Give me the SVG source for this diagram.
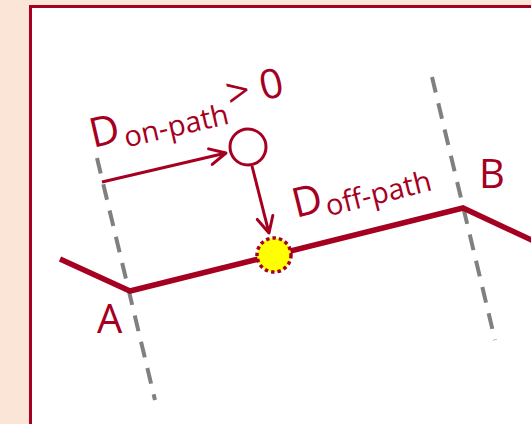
<svg xmlns="http://www.w3.org/2000/svg" width="531" height="424" viewBox="0 0 531 424">
<defs>
<style>
.lbl{font-family:"Open Sans","Noto Sans",sans-serif;fill:#A50021}
.dash{stroke:#808080;stroke-width:4;stroke-dasharray:16 11;fill:none}
.red{stroke:#A50021;fill:none}
</style>
<marker id="arr" viewBox="0 0 20 20" refX="18" refY="10" markerWidth="20" markerHeight="20" markerUnits="userSpaceOnUse" orient="auto">
<path d="M2,2 L18,10 L2,18" fill="none" stroke="#A50021" stroke-width="3" stroke-linecap="round" stroke-linejoin="round"/>
</marker>
</defs>
<rect x="0" y="0" width="531" height="424" fill="#FBE5D6"/>
<rect x="30.5" y="6.5" width="520" height="430" fill="#FFFFFF" stroke="#A50021" stroke-width="3"/>
<g id="guides">
<line class="dash" x1="97" y1="158" x2="155" y2="400"/>
<line class="dash" x1="432" y1="77" x2="495" y2="340"/>
</g>
<g id="path">
<polyline class="red" stroke-width="5.5" points="60,259 130,291 463,208 540,244"/>
</g>
<g id="connectors">
<line class="red" stroke-width="3" x1="102" y1="182" x2="226" y2="153" marker-end="url(#arr)"/>
<line class="red" stroke-width="3" x1="252" y1="166" x2="269" y2="233" marker-end="url(#arr)"/>
</g>
<g id="point-off">
<circle cx="248" cy="147" r="18" fill="#FFFFFF" stroke="#A50021" stroke-width="3"/>
</g>
<g id="point-on">
<circle cx="274" cy="255" r="17" fill="#FFFF00" stroke="#A50021" stroke-width="3.5" stroke-dasharray="3.5 3"/>
</g>
<g id="labels">
<text class="lbl" transform="translate(93,148) rotate(-13)"><tspan font-size="41">D</tspan><tspan font-size="29" dx="3" dy="7">on-path</tspan><tspan font-size="41" dx="3" dy="-15">&gt; 0</tspan></text>
<text class="lbl" transform="translate(296,218) rotate(-14)"><tspan font-size="41">D</tspan><tspan font-size="29" dx="2" dy="6">off-path</tspan></text>
<text class="lbl" font-size="40" x="479" y="188">B</text>
<text class="lbl" font-size="40" x="97" y="333">A</text>
</g>
</svg>
